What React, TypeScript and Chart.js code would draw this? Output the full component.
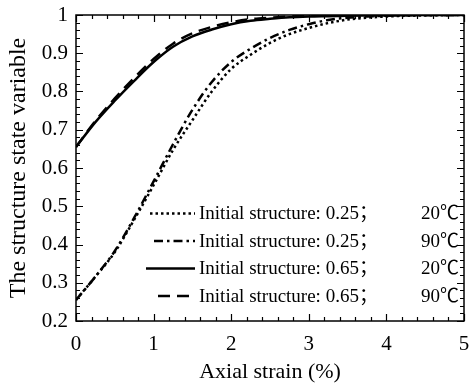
import React, { useEffect, useRef } from "react";
import { Chart, registerables } from "chart.js";

Chart.register(...registerables);

// Axial strain (%) sample points shared by all curves
const strain = [0, 0.25, 0.5, 0.75, 1, 1.25, 1.5, 1.75, 2, 2.25, 2.5, 2.75, 3, 3.25, 3.5, 3.75, 4, 4.5, 5];

const initialStructure = ["0.25", "0.25", "0.65", "0.65"];
const temperature = ["20℃", "90℃", "20℃", "90℃"];

const init025_20 = [0.255, 0.316, 0.38, 0.465, 0.555, 0.647, 0.725, 0.8, 0.859, 0.896, 0.927, 0.95, 0.966, 0.979, 0.988, 0.993, 0.996, 0.999, 1.0];
const init025_90 = [0.255, 0.316, 0.383, 0.47, 0.565, 0.662, 0.752, 0.825, 0.877, 0.912, 0.94, 0.961, 0.976, 0.987, 0.993, 0.996, 0.998, 1.0, 1.0];
const init065_20 = [0.655, 0.72, 0.776, 0.828, 0.877, 0.917, 0.944, 0.962, 0.976, 0.985, 0.99, 0.994, 0.996, 0.997, 0.998, 0.999, 0.999, 1.0, 1.0];
const init065_90 = [0.655, 0.723, 0.782, 0.836, 0.885, 0.925, 0.952, 0.969, 0.981, 0.989, 0.993, 0.996, 0.998, 0.999, 0.999, 1.0, 1.0, 1.0, 1.0];

const seriesValues = [init025_20, init025_90, init065_20, init065_90];
const dashes: number[][] = [[2.5, 3], [9, 4, 2.5, 4], [], [12, 7]];

const xTicks = [0, 1, 2, 3, 4, 5];
const yTicks = [0.2, 0.3, 0.4, 0.5, 0.6, 0.7, 0.8, 0.9, 1];

const SERIF = "'Liberation Serif', 'Noto Sans CJK SC', serif";

// Frame with inward major/minor ticks on all four sides
const framePlugin = {
  id: "frameTicks",
  afterDatasetsDraw(chart: any) {
    const { ctx, chartArea: a, scales } = chart;
    const xs = scales.x;
    const ys = scales.y;
    ctx.save();
    ctx.strokeStyle = "#000";
    ctx.lineWidth = 1.5;
    ctx.setLineDash([]);
    ctx.strokeRect(a.left, a.top, a.right - a.left, a.bottom - a.top);
    ctx.lineWidth = 1.2;
    for (let i = 0; i <= 25; i++) {
      const v = i * 0.2;
      const px = Math.round(xs.getPixelForValue(v)) + 0.5;
      const len = i % 5 === 0 ? 7 : 4;
      ctx.beginPath();
      ctx.moveTo(px, a.bottom);
      ctx.lineTo(px, a.bottom - len);
      ctx.moveTo(px, a.top);
      ctx.lineTo(px, a.top + len);
      ctx.stroke();
    }
    for (let i = 0; i <= 40; i++) {
      const v = 0.2 + i * 0.02;
      const py = Math.round(ys.getPixelForValue(v)) + 0.5;
      const len = i % 5 === 0 ? 7 : 4;
      ctx.beginPath();
      ctx.moveTo(a.left, py);
      ctx.lineTo(a.left + len, py);
      ctx.moveTo(a.right, py);
      ctx.lineTo(a.right - len, py);
      ctx.stroke();
    }
    ctx.restore();
  },
};

// Legend drawn inside the plot, lower right
const legendPlugin = {
  id: "innerLegend",
  afterDraw(chart: any) {
    const { ctx } = chart;
    const rows = [213.5, 241, 268.5, 296];
    const starts = [150, 154, 146, 158];
    ctx.save();
    ctx.font = `19px ${SERIF}`;
    ctx.fillStyle = "#000";
    ctx.textBaseline = "middle";
    chart.data.datasets.forEach((ds: any, i: number) => {
      const y = rows[i];
      ctx.strokeStyle = "#000";
      ctx.lineWidth = 2.5;
      ctx.setLineDash(ds.borderDash || []);
      ctx.beginPath();
      ctx.moveTo(starts[i], y);
      ctx.lineTo(195, y);
      ctx.stroke();
      ctx.setLineDash([]);
      const [head, tail] = String(ds.label).split("；");
      ctx.textAlign = "left";
      ctx.fillText(head + "；", 199, y + 1);
      ctx.textAlign = "right";
      ctx.fillText(tail, 459, y + 1);
    });
    ctx.restore();
  },
};

export default function App() {
  const ref = useRef<HTMLCanvasElement>(null);

  useEffect(() => {
    document.body.style.margin = "0";
    const canvas = ref.current!;
    const chart = new Chart(canvas, {
      type: "line",
      data: {
        datasets: seriesValues.map((vals, i) => ({
          label: `Initial structure: ${initialStructure[i]}；${temperature[i]}`,
          data: strain.map((x, j) => ({ x, y: vals[j] })),
          borderColor: "#000",
          borderWidth: 2.5,
          borderDash: dashes[i],
          pointRadius: 0,
          fill: false,
          cubicInterpolationMode: "monotone" as const,
        })),
      },
      options: {
        animation: false,
        responsive: false,
        layout: { padding: { top: 15, right: 6, left: 0, bottom: 0 } },
        plugins: { legend: { display: false }, tooltip: { enabled: false } },
        scales: {
          x: {
            type: "linear",
            min: 0,
            max: 5,
            afterFit: (s: any) => {
              s.height = 66;
              s.paddingLeft = 0;
              s.paddingRight = 0;
            },
            afterBuildTicks: (s: any) => { s.ticks = xTicks.map((v) => ({ value: v })); },
            grid: { display: false, drawTicks: false },
            border: { display: false },
            ticks: { color: "#000", font: { family: SERIF, size: 21 }, padding: 11, maxRotation: 0 },
            title: { display: true, text: "Axial strain (%)", color: "#000", font: { family: SERIF, size: 22 }, padding: { top: 0, bottom: 2 } },
          },
          y: {
            type: "linear",
            min: 0.2,
            max: 1,
            afterFit: (s: any) => {
              s.width = 76;
              s.paddingTop = 0;
              s.paddingBottom = 0;
            },
            afterBuildTicks: (s: any) => { s.ticks = yTicks.map((v) => ({ value: v })); },
            grid: { display: false, drawTicks: false },
            border: { display: false },
            ticks: {
              color: "#000",
              font: { family: SERIF, size: 21 },
              padding: 8,
              callback: (v: any) => String(Math.round(Number(v) * 10) / 10),
            },
            title: { display: true, text: "The structure state variable", color: "#000", font: { family: SERIF, size: 24 }, padding: { top: 4, bottom: 0 } },
          },
        },
      },
      plugins: [framePlugin, legendPlugin],
    });
    return () => chart.destroy();
  }, []);

  return <canvas ref={ref} width={470} height={387} style={{ display: "block" }} />;
}
